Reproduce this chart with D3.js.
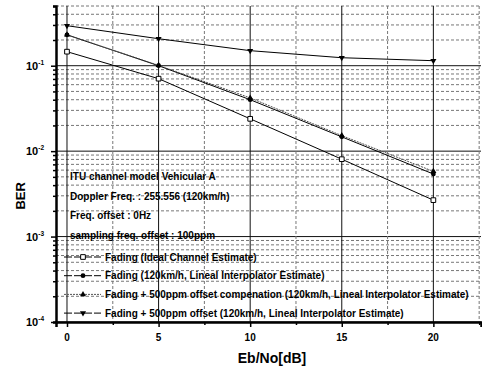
<!DOCTYPE html>
<html>
<head>
<meta charset="utf-8">
<script src="https://cdn.jsdelivr.net/npm/d3@7"></script>
<style>
  body { margin: 0; background: #fff; }
  svg { display: block; font-family: "Liberation Sans", Arial, sans-serif; }
  .lbl { font-weight: bold; fill: #000; }
</style>
</head>
<body>
<div id="chart"></div>
<script>
// data
const snr = [0, 5, 10, 15, 20];
const berIdeal   = [0.146, 0.0705, 0.0239, 0.00805, 0.00267];
const berLineal  = [0.23, 0.1, 0.04, 0.0147, 0.0054];
const berComp    = [0.23, 0.101, 0.042, 0.0152, 0.0058];
const berOffset  = [0.294, 0.207, 0.15, 0.124, 0.1145];
const seriesNames = [
  'Fading (Ideal Channel Estimate)',
  'Fading (120km/h, Lineal Interpolator Estimate)',
  'Fading + 500ppm offset compenation (120km/h, Lineal Interpolator Estimate)',
  'Fading + 500ppm offset (120km/h, Lineal Interpolator Estimate)'
];
const infoLines = [
  'ITU channel model Vehicular A',
  'Doppler Freq. : 255.556 (120km/h)',
  'Freq. offset : 0Hz',
  'sampling freq. offset : 100ppm'
];
const xTicks = [0, 5, 10, 15, 20];
const yDecades = [1e-4, 1e-3, 1e-2, 1e-1];

// size
const W = 482, H = 368;
const margin = { top: 6, right: 1, bottom: 46, left: 56 };
const width = W - margin.left - margin.right;
const height = H - margin.top - margin.bottom;

const svg = d3.select('#chart').append('svg')
  .attr('width', W).attr('height', H);
const g = svg.append('g')
  .attr('transform', `translate(${margin.left},${margin.top})`);

const x = d3.scaleLinear().domain([-0.6, 22.6]).range([0, width]);
const y = d3.scaleLog().domain([1e-4, 0.5]).range([height, 0]);

// minor values
const yAll = y.ticks().filter(v => v <= 0.5);
const isMajor = v => Math.abs(Math.log10(v) - Math.round(Math.log10(v))) < 1e-6;
const xMinor = d3.range(2.5, 22.6, 5);

// grid
const grid = g.append('g');
grid.selectAll('.hg').data(yAll).enter().append('line')
  .attr('x1', 0).attr('x2', width)
  .attr('y1', d => y(d)).attr('y2', d => y(d))
  .attr('stroke', d => isMajor(d) ? '#111' : '#777')
  .attr('stroke-width', 1)
  .attr('stroke-dasharray', d => isMajor(d) ? null : '3,2');
grid.selectAll('.vg').data(xTicks).enter().append('line')
  .attr('x1', d => x(d)).attr('x2', d => x(d))
  .attr('y1', 0).attr('y2', height)
  .attr('stroke', '#111').attr('stroke-width', 1);
grid.selectAll('.vm').data(xMinor).enter().append('line')
  .attr('x1', d => x(d)).attr('x2', d => x(d))
  .attr('y1', 0).attr('y2', height)
  .attr('stroke', '#777').attr('stroke-width', 1)
  .attr('stroke-dasharray', '3,2');

// axes
const yAxis = g.append('g')
  .call(d3.axisLeft(y).tickValues(yAll).tickSize(3).tickFormat(''));
yAxis.selectAll('.tick line').attr('x2', d => isMajor(d) ? -5 : -3).attr('stroke-width', 1.5);
yAxis.select('.domain').attr('stroke-width', 2.5);

const xAxis = g.append('g')
  .attr('transform', `translate(0,${height})`)
  .call(d3.axisBottom(x).tickValues(xTicks.concat(xMinor)).tickSize(5).tickFormat(''));
xAxis.selectAll('.tick line').attr('y2', d => xTicks.includes(d) ? 5 : 3).attr('stroke-width', 1.5);
xAxis.select('.domain').attr('stroke-width', 2.5);

// tick labels
g.selectAll('.xl').data(xTicks).enter().append('text')
  .attr('class', 'lbl')
  .attr('x', d => x(d)).attr('y', height + 19)
  .attr('text-anchor', 'middle').attr('font-size', 10)
  .text(d => d);
const yl = g.selectAll('.yl').data(yDecades).enter().append('text')
  .attr('class', 'lbl')
  .attr('x', -12).attr('y', d => y(d) + 4)
  .attr('text-anchor', 'end').attr('font-size', 11);
yl.append('tspan').text('10');
yl.append('tspan').attr('dy', -5).attr('font-size', 6.5).text(d => Math.round(Math.log10(d)));

// axis titles
svg.append('text').attr('class', 'lbl')
  .attr('transform', `translate(25,${margin.top + y(3e-3)}) rotate(-90)`)
  .attr('text-anchor', 'middle').attr('font-size', 13)
  .text('BER');
svg.append('text').attr('class', 'lbl')
  .attr('x', 272).attr('y', 363)
  .attr('text-anchor', 'middle').attr('font-size', 14)
  .text('Eb/No[dB]');

// series
const series = [
  { vals: berIdeal, dash: null, color: '#000', w: 1, marker: 'square' },
  { vals: berLineal, dash: null, color: '#000', w: 1, marker: 'circle' },
  { vals: berComp, dash: '2,1', color: '#555', w: 1, marker: 'up' },
  { vals: berOffset, dash: null, color: '#000', w: 1, marker: 'down' }
];
const line = d3.line().x(d => x(d[0])).y(d => y(d[1]));
const symbolOf = { square: d3.symbolSquare, circle: d3.symbolCircle, up: d3.symbolTriangle, down: d3.symbolTriangle };

function drawMarker(sel, s) {
  if (s.marker === 'square') {
    sel.append('path').attr('d', d3.symbol(d3.symbolSquare, 22)())
      .attr('fill', '#fff').attr('stroke', '#000').attr('stroke-width', 1);
  } else {
    sel.append('path').attr('d', d3.symbol(symbolOf[s.marker], s.marker === 'circle' ? 18 : 16)())
      .attr('fill', '#000')
      .attr('transform', s.marker === 'down' ? 'rotate(180)' : null);
  }
}

series.forEach(s => {
  const pts = snr.map((v, i) => [v, s.vals[i]]);
  g.append('path').datum(pts)
    .attr('fill', 'none').attr('stroke', s.color)
    .attr('stroke-width', s.w).attr('stroke-dasharray', s.dash)
    .attr('d', line);
  pts.forEach(p => {
    const m = g.append('g').attr('transform', `translate(${x(p[0])},${y(p[1])})`);
    drawMarker(m, s);
  });
});

// info text
infoLines.forEach((t, i) => {
  svg.append('text').attr('class', 'lbl')
    .attr('x', 70).attr('y', 180 + i * 19.5)
    .attr('font-size', 10).text(t);
});

// legend
series.forEach((s, i) => {
  const ly = 257 + i * 18.7;
  svg.append('line')
    .attr('x1', 64).attr('x2', 101).attr('y1', ly).attr('y2', ly)
    .attr('stroke', s.color).attr('stroke-width', s.w)
    .attr('stroke-dasharray', s.dash || '8,2');
  const m = svg.append('g').attr('transform', `translate(83,${ly})`);
  drawMarker(m, s);
  svg.append('text').attr('class', 'lbl')
    .attr('x', 105).attr('y', ly + 3.5)
    .attr('font-size', 10).text(seriesNames[i]);
});
</script>
</body>
</html>
